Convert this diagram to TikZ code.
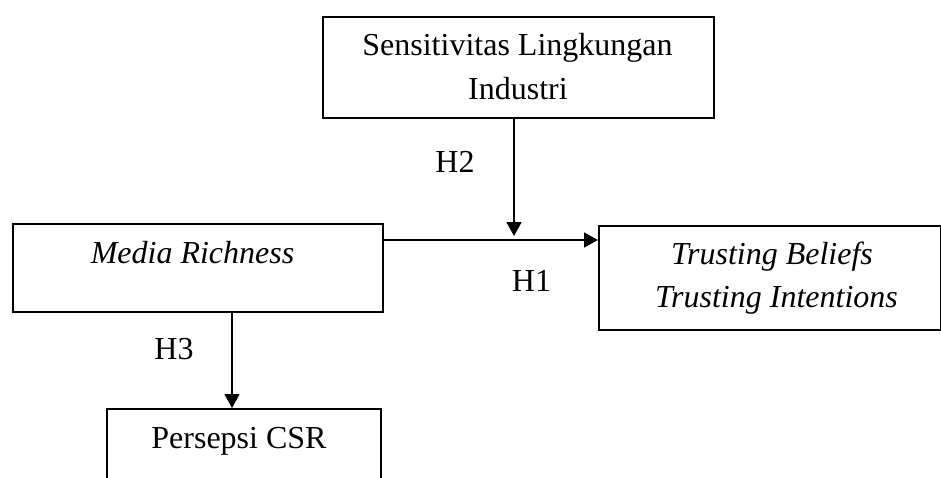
\documentclass[tikz,border=0pt]{standalone}
\usepackage{fontspec}
\setmainfont{Liberation Serif}
\usetikzlibrary{arrows.meta}
\tikzset{
  box/.style={draw, line width=2pt, rectangle, inner sep=0pt, anchor=north west},
  txt/.style={inner sep=0pt, anchor=base, font=\fontsize{32}{40}\selectfont},
  itxt/.style={txt, font=\fontsize{32}{40}\selectfont\itshape},
  arr/.style={line width=1.8pt, -{Triangle[length=14pt,width=15pt]}}
}
\begin{document}
\begin{tikzpicture}[x=1pt,y=-1pt]
\useasboundingbox (0,0) rectangle (941,477);
\clip (0,0) rectangle (941,477);
% boxes
\node[box, minimum width=391pt, minimum height=101pt] (top) at (322,16) {};
\node[box, minimum width=370pt, minimum height=88pt] (mr) at (12,223) {};
\node[box, minimum width=342pt, minimum height=104pt] (tb) at (598,225) {};
\node[box, minimum width=274pt, minimum height=120pt] (csr) at (106,408) {};
% texts
\node[txt] (topa) at (517.5,55) {Sensitivitas Lingkungan};
\node[txt] (topb) at (518,99) {Industri};
\node[itxt] (mrt) at (192.5,263) {Media Richness};
\node[itxt] (tba) at (772,264) {Trusting Beliefs};
\node[itxt] (tbb) at (776.5,307) {Trusting Intentions};
\node[txt] (csrt) at (239,448) {Persepsi CSR};
\node[txt] (h2) at (455,172) {H2};
\node[txt] (h1) at (531.5,291) {H1};
\node[txt] (h3) at (174,359) {H3};
% connectors
\coordinate (j) at (514,236);
\coordinate (hl) at (490,240);
\coordinate (vl) at (232,330);
\draw[arr] (top.south -| j) -- (j);
\draw[arr] (mr.east |- hl) -- (tb.west |- hl);
\draw[arr] (vl |- mr.south) -- (vl |- csr.north);
\end{tikzpicture}
\end{document}
